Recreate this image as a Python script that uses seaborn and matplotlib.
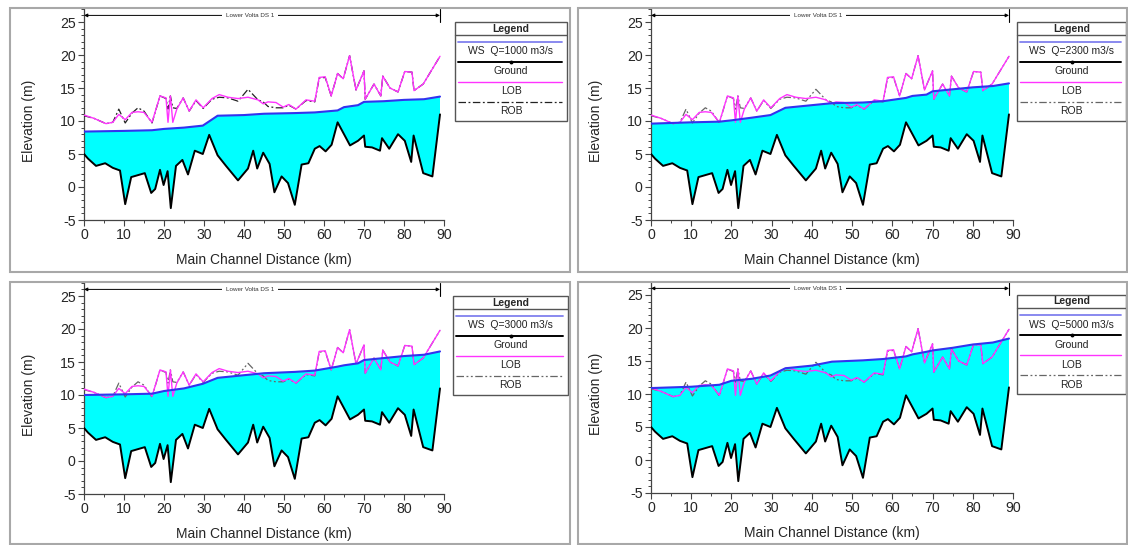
import numpy as np
import seaborn as sns
import matplotlib.pyplot as plt
from matplotlib.patches import Rectangle
from matplotlib.ticker import MultipleLocator

# ground (thalweg) profile along the main channel
ground_km = [0, 1, 3, 5.3, 7.2, 9, 10.3, 11.8, 13.5, 15.2, 16.8, 17.8, 19, 19.9, 20.9, 21.7,
             23, 24.6, 26, 27.7, 29.7, 31.3, 33.4, 35.5, 38.5, 41, 42.3, 43.3, 44.8, 46.4,
             47.6, 49.4, 51, 52.7, 54.4, 56.1, 57.7, 58.9, 60.4, 61.9, 63.4, 65, 66.5, 68.5,
             70, 70.3, 72, 74, 74.5, 76.3, 78.5, 80.2, 81.8, 82.4, 84.8, 87.1, 89]
ground_m = [5.0, 4.3, 3.2, 3.6, 2.9, 2.5, -2.6, 1.5, 1.8, 2.1, -0.9, -0.3, 2.6, 0.3, 2.4, -3.2,
            3.2, 4.1, 1.9, 5.5, 5.0, 7.9, 4.8, 3.2, 1.0, 2.8, 5.5, 2.8, 5.2, 3.5,
            -0.8, 1.6, 0.6, -2.7, 3.4, 3.6, 5.8, 6.2, 5.4, 6.4, 9.8, 8.0, 6.3, 7.0,
            7.8, 6.1, 6.0, 5.5, 7.4, 5.8, 8.0, 7.0, 3.8, 7.8, 2.1, 1.6, 11.0]

# left / right bank elevations
bank_km = [0, 2.5, 5.5, 7.2, 8.7, 10.3, 12, 13.5, 15, 17, 19, 20.5, 21, 21.6, 22.2, 23.2,
           24.8, 26.3, 28, 29.8, 32, 33.8, 36, 38.5, 41, 43.5, 44.8, 46, 48, 49.8, 51.2,
           53, 55.5, 57.7, 58.8, 60.3, 61.8, 63.4, 64.8, 66.4, 68, 70, 70.3, 72.5, 74.2,
           74.7, 76.5, 78.5, 80.2, 82, 82.5, 84.8, 89]
lob_m = [10.9, 10.4, 9.6, 9.8, 11.0, 10.2, 11.3, 11.4, 11.3, 9.8, 13.8, 13.5, 9.8, 13.8, 9.8, 11.8,
         13.5, 11.5, 13.2, 12.0, 13.4, 14.0, 13.6, 13.4, 13.6, 13.2, 12.6, 12.9, 12.8, 12.1, 12.5,
         11.8, 13.2, 13.0, 16.6, 16.7, 13.8, 17.2, 16.4, 19.9, 14.7, 17.6, 13.3, 15.6, 13.8,
         16.8, 15.0, 14.4, 17.5, 17.4, 14.6, 15.6, 19.8]
rob_m = [10.8, 10.4, 9.6, 9.8, 11.8, 9.7, 11.2, 12.0, 11.5, 9.7, 13.8, 13.4, 11.8, 13.8, 12.0, 11.9,
         13.5, 11.5, 13.1, 11.9, 13.3, 13.6, 13.5, 13.0, 14.8, 13.2, 12.9, 12.2, 12.0, 12.0, 12.4,
         11.8, 13.1, 12.9, 16.5, 16.6, 13.8, 17.2, 16.4, 19.9, 14.7, 17.6, 13.3, 15.6, 13.8,
         16.8, 15.0, 14.4, 17.5, 17.4, 14.6, 15.6, 19.8]

# water surface profiles
ws_km = [0, 10, 17, 20, 25, 29.7, 33.4, 40, 45, 52.7, 57.7, 63.4, 65, 68.5, 70, 75, 80, 85, 89]
ws_q1000 = [8.4, 8.5, 8.6, 8.8, 9.0, 9.3, 10.8, 10.9, 11.1, 11.2, 11.3, 11.6, 12.1, 12.4, 12.9, 13.0, 13.2, 13.3, 13.7]
ws_q2300 = [9.6, 9.8, 9.9, 10.1, 10.5, 10.9, 12.0, 12.4, 12.7, 12.8, 13.0, 13.5, 13.8, 14.0, 14.5, 14.8, 15.1, 15.3, 15.7]
ws_q3000 = [10.0, 10.1, 10.2, 10.6, 11.0, 11.7, 12.6, 13.0, 13.3, 13.5, 13.7, 14.3, 14.5, 14.8, 15.3, 15.6, 15.9, 16.1, 16.6]
ws_q5000 = [10.9, 11.1, 11.4, 12.0, 12.3, 12.8, 13.9, 14.3, 14.9, 15.1, 15.3, 15.7, 16.0, 16.4, 16.6, 17.0, 17.5, 17.8, 18.4]

flows = ['1000', '2300', '3000', '5000']
ws_profiles = [ws_q1000, ws_q2300, ws_q3000, ws_q5000]
rob_colors = ['#222222', '#666666', '#666666', '#666666']
rob_dash = [(6, 2, 1.5, 2), (6, 2, 1.5, 2, 1.5, 2), (6, 2, 1.5, 2, 1.5, 2), (6, 2, 1.5, 2, 1.5, 2)]

sns.set_style('ticks')
plt.rcParams['font.family'] = ['Liberation Sans', 'DejaVu Sans']
plt.rcParams['axes.unicode_minus'] = False

W, H = 1128, 545
fig = plt.figure(figsize=(W / 100, H / 100), dpi=100)

def fig_rect(x0, y0, x1, y1):
    return [x0 / W, 1 - y1 / H, (x1 - x0) / W, (y1 - y0) / H]

# pixel layout: axes left, axes right, y pixel of -5 m, legend box, panel frame
layout = [
    (84, 444, 220, (454, 21, 568, 122), (10, 8, 570, 272)),
    (651, 1013, 220, (1016, 21, 1127, 122), (578, 8, 1127, 272)),
    (84, 444, 494, (452, 295, 569, 396), (10, 282, 570, 544)),
    (651, 1013, 493, (1016, 294, 1127, 395), (578, 282, 1127, 544)),
]
px_per_m = 6.6
ymin, ymax = -5, 27

WS_C, LOB_C, FILL_C = '#3333ee', '#ff33ff', '#00ffff'

for i, (flow, ws) in enumerate(zip(flows, ws_profiles)):
    x0, x1, yb, leg, frame = layout[i]
    yt = yb - (ymax - ymin) * px_per_m
    ax = fig.add_axes(fig_rect(x0, yt, x1, yb))

    # panel frame
    fig.add_artist(Rectangle((frame[0] / W, 1 - frame[3] / H), (frame[2] - frame[0]) / W,
                             (frame[3] - frame[1]) / H, transform=fig.transFigure,
                             fill=False, ec='#a8a8a8', lw=1.5))

    # water body between ground and water surface
    ax.fill(np.r_[ws_km, ground_km[::-1]], np.r_[ws, ground_m[::-1]],
            color=FILL_C, lw=0, zorder=1)
    sns.lineplot(x=bank_km, y=rob_m, ax=ax, color=rob_colors[i], lw=0.9, dashes=rob_dash[i],
                 sort=False, estimator=None, zorder=3)
    sns.lineplot(x=bank_km, y=lob_m, ax=ax, color=LOB_C, lw=1.0,
                 sort=False, estimator=None, zorder=3)
    sns.lineplot(x=ws_km, y=ws, ax=ax, color=WS_C, lw=1.5,
                 sort=False, estimator=None, zorder=4)
    sns.lineplot(x=ground_km, y=ground_m, ax=ax, color='black', lw=1.4,
                 sort=False, estimator=None, zorder=5)

    ax.set_xlim(0, 90)
    ax.set_ylim(ymin, ymax)
    ax.set_xticks(range(0, 91, 10))
    ax.set_yticks(range(-5, 26, 5))
    ax.xaxis.set_minor_locator(MultipleLocator(5))
    ax.yaxis.set_minor_locator(MultipleLocator(1))
    ax.tick_params(which='major', direction='out', length=4, width=0.8, labelsize=10.2,
                   color='#444444', pad=2)
    ax.tick_params(which='minor', direction='out', length=2, width=0.7, color='#444444')
    for s in ['top', 'right']:
        ax.spines[s].set_visible(False)
    for s in ['left', 'bottom']:
        ax.spines[s].set_color('#444444')
        ax.spines[s].set_linewidth(0.9)
    ax.set_xlabel('Main Channel Distance (km)', fontsize=10, labelpad=8)
    ax.set_ylabel('Elevation (m)', fontsize=10)
    ax.yaxis.set_label_coords(-0.132, 15 / 32)

    # reach bracket
    x_end = ground_km[-1]
    ax.annotate('', xy=(0, 26.0), xytext=(x_end, 26.0), annotation_clip=False,
                arrowprops=dict(arrowstyle='<|-|>', lw=0.7, color='black',
                                mutation_scale=5, shrinkA=0, shrinkB=0))
    ax.plot([x_end, x_end], [25.0, 26.9], color='black', lw=0.8, clip_on=False)
    ax.text(41.5, 26.0, 'Lower Volta DS 1', fontsize=4.5, ha='center', va='center',
            color='#333333', bbox=dict(fc='white', ec='none', pad=2.5))

    # legend box
    lw_, lh_ = leg[2] - leg[0], leg[3] - leg[1]
    lax = fig.add_axes(fig_rect(*leg))
    lax.set_xlim(0, lw_)
    lax.set_ylim(lh_, 0)
    lax.axis('off')
    lax.add_patch(Rectangle((1, 1), lw_ - 2, lh_ - 2, fill=False, ec='#555555', lw=1.0,
                            clip_on=False))
    lax.text(lw_ / 2, 7.5, 'Legend', fontsize=7.5, fontweight='bold', ha='center', va='center')
    lax.plot([1, lw_ - 1], [14, 14], color='#555555', lw=1.0)
    items = [('WS  Q=' + flow + ' m3/s', '#8080ee', '-', 1.3),
             ('Ground', 'black', '-', 1.4),
             ('LOB', LOB_C, '-', 1.0),
             ('ROB', rob_colors[i], '--', 0.9)]
    for k, (lab, c, ls, lw) in enumerate(items):
        ly = 21 + 20 * k
        ln, = lax.plot([4, lw_ - 6], [ly, ly], color=c, ls=ls, lw=lw)
        if lab == 'ROB':
            ln.set_dashes(rob_dash[i])
        if lab == 'Ground':
            lax.plot([lw_ / 2], [ly], marker='o', ms=1.8, color='black')
        lax.text(lw_ / 2, ly + 9.5, lab, fontsize=7.5, ha='center', va='center', color='#222222')

fig.savefig('out.png', dpi=100)
